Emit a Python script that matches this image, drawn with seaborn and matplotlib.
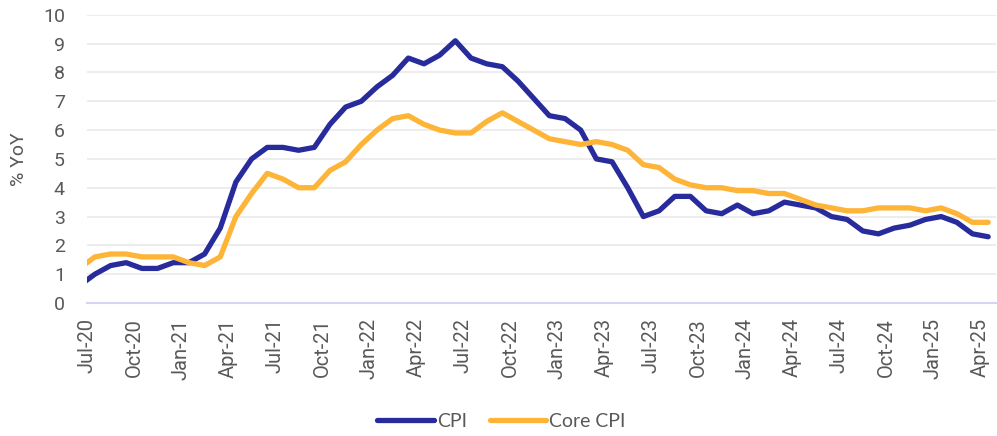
import numpy as np
import pandas as pd
import matplotlib
matplotlib.use("Agg")
import matplotlib.pyplot as plt
import seaborn as sns

# monthly YoY inflation, Jun-20 .. Apr-25
cpi = [0.6, 1.0, 1.3, 1.4, 1.2, 1.2, 1.4,
       1.4, 1.7, 2.6, 4.2, 5.0, 5.4, 5.4, 5.3, 5.4, 6.2, 6.8, 7.0,
       7.5, 7.9, 8.5, 8.3, 8.6, 9.1, 8.5, 8.3, 8.2, 7.7, 7.1, 6.5,
       6.4, 6.0, 5.0, 4.9, 4.0, 3.0, 3.2, 3.7, 3.7, 3.2, 3.1, 3.4,
       3.1, 3.2, 3.5, 3.4, 3.3, 3.0, 2.9, 2.5, 2.4, 2.6, 2.7, 2.9,
       3.0, 2.8, 2.4, 2.3]
core_cpi = [1.2, 1.6, 1.7, 1.7, 1.6, 1.6, 1.6,
            1.4, 1.3, 1.6, 3.0, 3.8, 4.5, 4.3, 4.0, 4.0, 4.6, 4.9, 5.5,
            6.0, 6.4, 6.5, 6.2, 6.0, 5.9, 5.9, 6.3, 6.6, 6.3, 6.0, 5.7,
            5.6, 5.5, 5.6, 5.5, 5.3, 4.8, 4.7, 4.3, 4.1, 4.0, 4.0, 3.9,
            3.9, 3.8, 3.8, 3.6, 3.4, 3.3, 3.2, 3.2, 3.3, 3.3, 3.3, 3.2,
            3.3, 3.1, 2.8, 2.8]
tick_labels = ["Jul-20", "Oct-20", "Jan-21", "Apr-21", "Jul-21", "Oct-21",
               "Jan-22", "Apr-22", "Jul-22", "Oct-22", "Jan-23", "Apr-23",
               "Jul-23", "Oct-23", "Jan-24", "Apr-24", "Jul-24", "Oct-24",
               "Jan-25", "Apr-25"]

# months counted from Jul-20; points sit mid-month
month_pos = np.arange(len(cpi)) - 0.5
df = pd.DataFrame({
    "month": np.concatenate([month_pos, month_pos]),
    "value": cpi + core_cpi,
    "series": ["CPI"] * len(cpi) + ["Core CPI"] * len(core_cpi),
})

sns.set_theme(style="white")
plt.rcParams["font.family"] = ["Roboto", "DejaVu Sans"]
grey = "#595959"

fig = plt.figure(figsize=(9.97, 4.36), dpi=100)
ax = fig.add_axes([0.0873, 0.305, 0.9117, 0.661])

sns.lineplot(data=df, x="month", y="value", hue="series",
             palette={"CPI": "#272b9b", "Core CPI": "#fdb437"},
             linewidth=3.8, ax=ax, legend=False)

ax.set_xlim(0, 58)
ax.set_ylim(0, 10)
ax.set_yticks(range(0, 11))
ax.yaxis.grid(True, color="#ececec", linewidth=1.3)
ax.set_axisbelow(True)
ax.set_xticks(np.arange(0, 58, 3))
ax.set_xticklabels(tick_labels, rotation=90)
ax.tick_params(axis="x", length=7, width=1.3, color="#d3d5f2", colors=grey,
               labelsize=14.5, pad=4)
ax.tick_params(axis="y", length=0, colors=grey, labelsize=14, pad=16)
for side in ["top", "right", "left"]:
    ax.spines[side].set_visible(False)
ax.spines["bottom"].set_color("#d3d5f2")
ax.spines["bottom"].set_linewidth(1.5)
ax.set_xlabel("")
ax.set_ylabel("% YoY", color=grey, fontsize=14, labelpad=11)

handles = [plt.Line2D([], [], color="#272b9b", linewidth=3.8),
           plt.Line2D([], [], color="#fdb437", linewidth=3.8)]
fig.legend(handles, ["CPI", "Core CPI"], loc="center",
           bbox_to_anchor=(0.503, 0.033), ncol=2, frameon=False,
           prop={"family": "Lato", "size": 14}, labelcolor=grey,
           handlelength=2.9, handletextpad=0.15, columnspacing=1.2)

fig.savefig("out.png", dpi=100)
